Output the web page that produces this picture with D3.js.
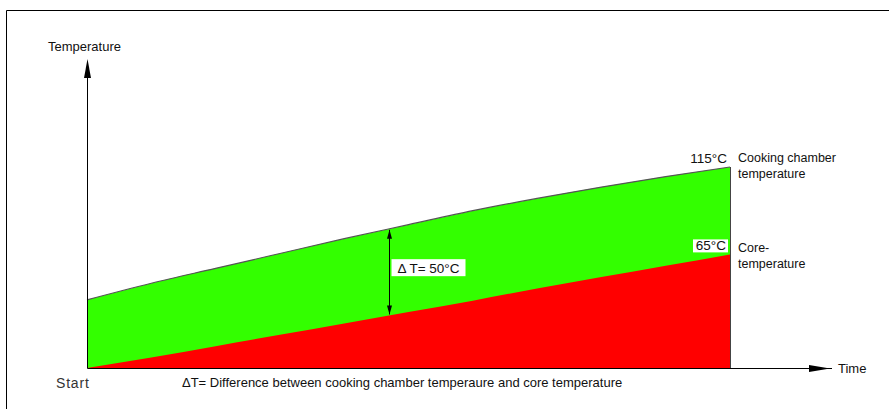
<!DOCTYPE html>
<html>
<head>
<meta charset="utf-8">
<script src="https://cdn.jsdelivr.net/npm/d3@7"></script>
<style>
  body { margin: 0; background: #fff; }
  svg text { font-family: "Liberation Sans", Arial, sans-serif; fill: #111; }
</style>
</head>
<body>
<svg class="chart" width="889" height="409"></svg>
<script>
// time steps (arbitrary units), start -> end
const times = [0, 1, 2, 3, 4, 5, 6, 7, 8, 9, 10];
// cooking chamber temperature, °C
const chamberTemp = [39, 48.5, 57, 65.5, 74, 82, 90, 97, 103.5, 109.5, 115];
// core temperature, °C
const coreTemp = [0, 6, 12.5, 19, 25.5, 32, 38.5, 45.5, 52, 58.5, 65];
const endLabels = ['115°C', '65°C'];
const seriesNames = [['Cooking chamber', 'temperature'], ['Core-', 'temperature']];
const deltaAt = 4.7;
const deltaLabel = 'Δ T= 50°C';
const footnote = 'ΔT= Difference between cooking chamber temperaure and core temperature';

const svg = d3.select('svg.chart');

// frame (top and left only)
svg.append('path')
    .attr('d', 'M6.5,409 V10.5 H889')
    .attr('fill', 'none')
    .attr('stroke', '#000');

const x = d3.scaleLinear().domain([0, 10]).range([87, 730]);
const y = d3.scaleLinear().domain([0, 115]).range([368, 167]);

const pts = times.map((t, i) => ({ t: t, hot: chamberTemp[i], core: coreTemp[i] }));
const curve = d3.curveMonotoneX;

// green band (chamber down to baseline) then red core on top
svg.append('path')
    .datum(pts)
    .attr('fill', '#33ff00')
    .attr('d', d3.area().curve(curve).x(d => x(d.t)).y0(y(0)).y1(d => y(d.hot)));

svg.append('path')
    .datum(pts)
    .attr('fill', '#ff0000')
    .attr('d', d3.area().curve(curve).x(d => x(d.t)).y0(y(0)).y1(d => y(d.core)));

svg.append('path')
    .datum(pts)
    .attr('fill', 'none')
    .attr('stroke', '#555')
    .attr('stroke-width', 1.2)
    .attr('d', d3.line().curve(curve).x(d => x(d.t)).y(d => y(d.hot)));

// right edge of the band
svg.append('line')
    .attr('x1', x(10) + 0.5).attr('x2', x(10) + 0.5)
    .attr('y1', y(chamberTemp[chamberTemp.length - 1])).attr('y2', y(0))
    .attr('stroke', '#444');

// axes
const x0 = x.range()[0] + 0.5, y0 = y(0) + 0.5;
svg.append('line')
    .attr('x1', x0).attr('x2', x0).attr('y1', y0).attr('y2', 62)
    .attr('stroke', '#000');
svg.append('line')
    .attr('x1', x0).attr('x2', 832).attr('y1', y0).attr('y2', y0)
    .attr('stroke', '#000');

// arrowheads
svg.append('path')
    .attr('d', 'M' + x0 + ',59 L' + (x0 + 3.5) + ',78 L' + (x0 - 3.5) + ',78 Z')
    .attr('fill', '#000');
svg.append('path')
    .attr('d', 'M830,' + y0 + ' L809,' + (y0 - 3.5) + ' L809,' + (y0 + 3.5) + ' Z')
    .attr('fill', '#000');

svg.append('text')
    .attr('x', 48).attr('y', 51)
    .style('font-size', '13px')
    .text('Temperature');

svg.append('text')
    .attr('x', 838).attr('y', 373)
    .style('font-size', '13px')
    .text('Time');

svg.append('text')
    .attr('x', 56).attr('y', 388)
    .style('font-size', '14px')
    .style('letter-spacing', '0.8px')
    .style('fill', '#333')
    .text('Start');

svg.append('text')
    .attr('x', 182).attr('y', 387)
    .style('font-size', '13px')
    .text(footnote);

// delta T marker
const i0 = Math.floor(deltaAt), f = deltaAt - i0;
const hotAt = chamberTemp[i0] + f * (chamberTemp[i0 + 1] - chamberTemp[i0]);
const coreAt = coreTemp[i0] + f * (coreTemp[i0 + 1] - coreTemp[i0]);
const dx = Math.round(x(deltaAt)) + 0.5;
const yTop = y(hotAt) + 1, yBot = y(coreAt) - 1;

svg.append('line')
    .attr('x1', dx).attr('x2', dx).attr('y1', yTop).attr('y2', yBot)
    .attr('stroke', '#000');
svg.append('path')
    .attr('d', 'M' + dx + ',' + yTop + ' l2.5,9 l-5,0 Z M' + dx + ',' + yBot + ' l2.5,-9 l-5,0 Z')
    .attr('fill', '#000');

const midY = (y(hotAt) + y(coreAt)) / 2 - 4;
svg.append('rect')
    .attr('x', dx + 2).attr('y', midY - 9).attr('width', 74).attr('height', 17)
    .attr('fill', '#fff');
svg.append('text')
    .attr('x', dx + 39).attr('y', midY + 4.5)
    .attr('text-anchor', 'middle')
    .style('font-size', '13.5px')
    .text(deltaLabel);

// end labels
const endX = x(10);
const hotEnd = y(chamberTemp[chamberTemp.length - 1]);
const coreEnd = y(coreTemp[coreTemp.length - 1]);

svg.append('text')
    .attr('x', endX - 3).attr('y', hotEnd - 4)
    .attr('text-anchor', 'end')
    .style('font-size', '13.5px')
    .text(endLabels[0]);

svg.append('rect')
    .attr('x', endX - 37).attr('y', coreEnd - 15).attr('width', 35).attr('height', 13)
    .attr('fill', '#fff');
svg.append('text')
    .attr('x', endX - 4).attr('y', coreEnd - 4)
    .attr('text-anchor', 'end')
    .style('font-size', '13.5px')
    .text(endLabels[1]);

[[hotEnd - 5, seriesNames[0]], [coreEnd - 2, seriesNames[1]]].forEach(([yy, lines]) => {
    lines.forEach((s, k) => {
        svg.append('text')
            .attr('x', endX + 8).attr('y', yy + k * 16)
            .style('font-size', '12.5px')
            .text(s);
    });
});
</script>
</body>
</html>
